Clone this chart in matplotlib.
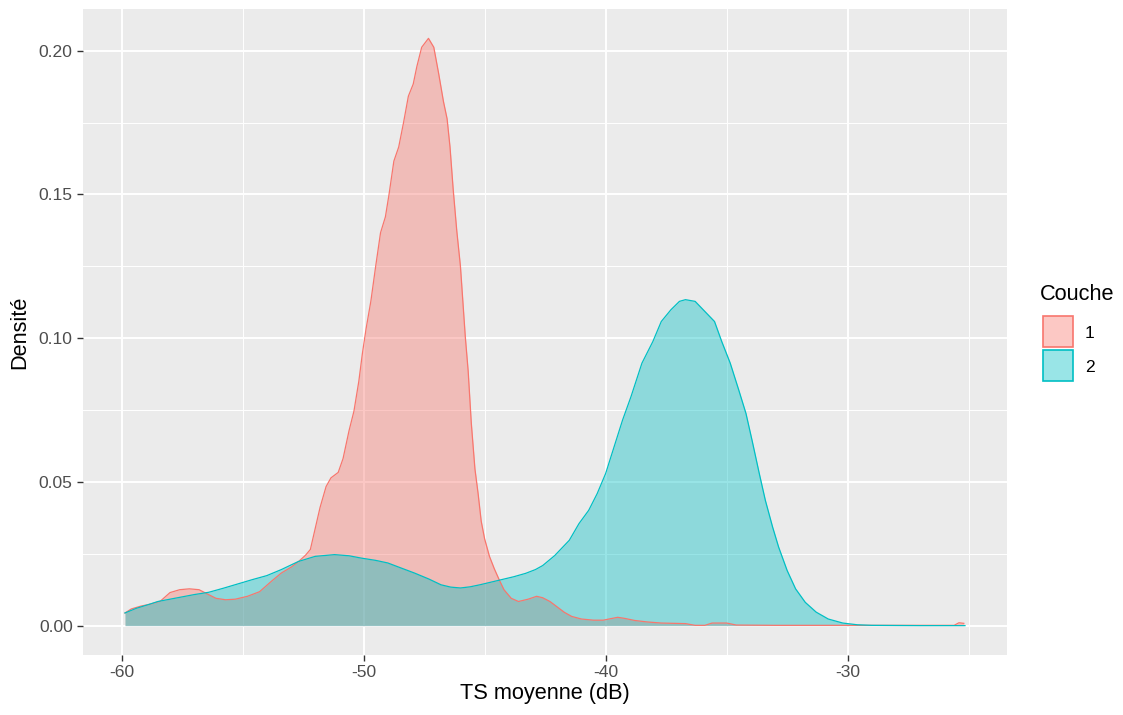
import numpy as np
import matplotlib
matplotlib.use("Agg")
import matplotlib.pyplot as plt
from matplotlib.patches import Rectangle
from matplotlib.ticker import FixedLocator, FormatStrFormatter

# Density curve of layer 1 (Couche 1)
TS_1 = [-59.86, -59.6, -59.2, -58.8, -58.4, -58.0, -57.6, -57.2, -56.8, -56.5,
        -56.1, -55.7, -55.3, -54.8, -54.3, -53.8, -53.4, -53.0, -52.7, -52.4,
        -52.2, -52.0, -51.8, -51.55, -51.35, -51.05, -50.85, -50.6, -50.4, -50.2,
        -50.05, -49.9, -49.7, -49.5, -49.3, -49.1, -48.95, -48.75, -48.55, -48.35,
        -48.15, -47.95, -47.8, -47.6, -47.32, -47.1, -46.9, -46.7, -46.55, -46.43,
        -46.3, -46.15, -46.0, -45.9, -45.8, -45.68, -45.55, -45.4, -45.27, -45.14,
        -45.0, -44.8, -44.6, -44.4, -44.2, -43.9, -43.6, -43.2, -42.85, -42.6,
        -42.3, -42.0, -41.7, -41.4, -41.0, -40.5, -40.1, -39.8, -39.5, -39.2,
        -38.8, -38.3, -37.7, -37.2, -36.7, -36.3, -35.9, -35.6, -35.0, -34.6,
        -33.0, -30.0, -27.0, -25.6, -25.4, -25.2]
DENS_1 = [0.0044, 0.0058, 0.0068, 0.0075, 0.0085, 0.0115, 0.0125, 0.0128, 0.0125, 0.0112,
          0.0095, 0.0090, 0.0092, 0.0102, 0.0118, 0.0155, 0.0183, 0.0203, 0.0222, 0.0245,
          0.0265, 0.0338, 0.0411, 0.0484, 0.0514, 0.0533, 0.0581, 0.0679, 0.0746, 0.0849,
          0.0947, 0.1032, 0.1129, 0.1251, 0.1367, 0.1422, 0.1500, 0.1616, 0.1665, 0.1750,
          0.1842, 0.1884, 0.1945, 0.2012, 0.2043, 0.2012, 0.1921, 0.1823, 0.1763, 0.1665,
          0.1519, 0.1373, 0.1251, 0.1129, 0.1007, 0.0886, 0.0704, 0.0545, 0.0460, 0.0363,
          0.0302, 0.0241, 0.0198, 0.0160, 0.0125, 0.0095, 0.0084, 0.0092, 0.0102, 0.0097,
          0.0084, 0.0065, 0.0046, 0.0032, 0.0023, 0.0019, 0.0019, 0.0024, 0.0029, 0.0025,
          0.0018, 0.0013, 0.0009, 0.0008, 0.0007, 0.0001, 0.0001, 0.0009, 0.0009, 0.0002,
          0.0001, 0.0001, 0.0001, 0.0001, 0.0010, 0.0008]

# Density curve of layer 2 (Couche 2)
TS_2 = [-59.86, -59.4, -58.9, -58.5, -58.0, -57.5, -57.0, -56.4, -55.8, -55.2,
        -54.6, -54.0, -53.4, -52.7, -52.0, -51.2, -50.6, -50.1, -49.5, -49.0,
        -48.5, -47.9, -47.3, -46.8, -46.4, -46.0, -45.6, -45.2, -44.8, -44.3,
        -43.8, -43.3, -42.9, -42.6, -42.1, -41.5, -41.1, -40.7, -40.35, -40.0,
        -39.65, -39.3, -38.95, -38.5, -38.05, -37.7, -37.3, -36.95, -36.7, -36.3,
        -35.9, -35.5, -35.2, -34.85, -34.5, -34.2, -33.95, -33.65, -33.4, -33.1,
        -32.85, -32.5, -32.15, -31.75, -31.3, -30.8, -30.2, -29.6, -29.0, -27.0,
        -25.15]
DENS_2 = [0.0044, 0.0060, 0.0073, 0.0084, 0.0092, 0.0100, 0.0108, 0.0116, 0.0130, 0.0145,
          0.0160, 0.0174, 0.0195, 0.0223, 0.0241, 0.0247, 0.0243, 0.0235, 0.0227, 0.0218,
          0.0202, 0.0183, 0.0162, 0.0142, 0.0134, 0.0131, 0.0135, 0.0142, 0.0150, 0.0160,
          0.0170, 0.0182, 0.0195, 0.0209, 0.0244, 0.0297, 0.0355, 0.0401, 0.0459, 0.0529,
          0.0622, 0.0715, 0.0797, 0.0913, 0.0988, 0.1058, 0.1099, 0.1128, 0.1134, 0.1128,
          0.1093, 0.1058, 0.0988, 0.0913, 0.0820, 0.0738, 0.0645, 0.0529, 0.0436, 0.0343,
          0.0273, 0.0192, 0.0128, 0.0081, 0.0047, 0.0023, 0.0009, 0.0003, 0.0001, 0.0000,
          0.0000]

GROUPS = ["1", "2"]
COLORS = ["#F8766D", "#00BFC4"]
X_MAJOR = [-60, -50, -40, -30]
X_MINOR = [-55, -45, -35, -25]
Y_MAJOR = [0.00, 0.05, 0.10, 0.15, 0.20]
Y_MINOR = [0.025, 0.075, 0.125, 0.175]

plt.rcParams["font.family"] = ["Liberation Sans", "DejaVu Sans"]
plt.rcParams["axes.unicode_minus"] = False

W, H = 1123, 715
fig = plt.figure(figsize=(W / 100, H / 100), dpi=100)
ax = fig.add_axes([83 / W, 1 - 655 / H, 924 / W, 646 / H])
ax.set_facecolor("#EBEBEB")
for s in ax.spines.values():
    s.set_visible(False)

for xs, ys, col in zip([TS_1, TS_2], [DENS_1, DENS_2], COLORS):
    ax.fill_between(xs, 0, ys, color=col, alpha=0.4, lw=0, zorder=2)
    ax.plot(xs, ys, color=col, lw=0.9, zorder=3)

# ggplot-style 5 % expansion
all_x = TS_1 + TS_2
xr = max(all_x) - min(all_x)
ax.set_xlim(min(all_x) - 0.05 * xr, max(all_x) + 0.05 * xr)
ymax = max(DENS_1 + DENS_2)
ax.set_ylim(-0.05 * ymax, ymax * 1.05)

ax.xaxis.set_major_locator(FixedLocator(X_MAJOR))
ax.xaxis.set_minor_locator(FixedLocator(X_MINOR))
ax.yaxis.set_major_locator(FixedLocator(Y_MAJOR))
ax.yaxis.set_minor_locator(FixedLocator(Y_MINOR))
ax.yaxis.set_major_formatter(FormatStrFormatter("%.2f"))
ax.grid(which="major", color="white", lw=1.4, zorder=0)
ax.grid(which="minor", color="white", lw=0.7, zorder=0)
ax.set_axisbelow(True)
ax.tick_params(which="major", length=4.2, width=1.0, color="#333333",
               labelcolor="#4D4D4D", labelsize=12.6, pad=3.2)
ax.tick_params(which="minor", length=0)

ax.set_xlabel("TS moyenne (dB)", fontsize=15.7, color="black", labelpad=2)
ax.set_ylabel("Densité", fontsize=15.7, color="black", labelpad=6)

# legend
fig.text(1040 / W, 1 - 295 / H, "Couche", fontsize=15.7,
         ha="left", va="center")
for i, (lab, col) in enumerate(zip(GROUPS, COLORS)):
    top = 316 + i * 34
    fig.patches.append(Rectangle((1043 / W, 1 - (top + 31) / H), 30 / W, 31 / H,
                                 transform=fig.transFigure, facecolor=col, alpha=0.4,
                                 edgecolor="none"))
    fig.patches.append(Rectangle((1043 / W, 1 - (top + 31) / H), 30 / W, 31 / H,
                                 transform=fig.transFigure, facecolor="none",
                                 edgecolor=col, lw=1.2))
    fig.text(1085 / W, 1 - (top + 17) / H, lab, fontsize=12.6,
             ha="left", va="center")

fig.savefig("out.png", dpi=100)
